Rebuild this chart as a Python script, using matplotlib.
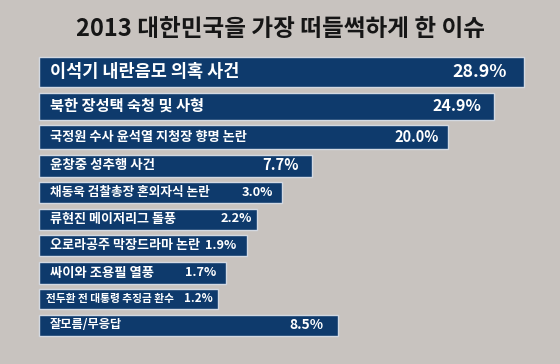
import matplotlib
matplotlib.use("Agg")
import matplotlib.pyplot as plt

plt.rcParams['font.family'] = ['Noto Sans CJK KR', 'DejaVu Sans']

# ---- data ----
title = "2013 대한민국을 가장 떠들썩하게 한 이슈"
issues = [
    "이석기 내란음모 의혹 사건",
    "북한 장성택 숙청 및 사형",
    "국정원 수사 윤석열 지청장 향명 논란",
    "윤창중 성추행 사건",
    "채동욱 검찰총장 혼외자식 논란",
    "류현진 메이저리그 돌풍",
    "오로라공주 막장드라마 논란",
    "싸이와 조용필 열풍",
    "전두환 전 대통령 추징금 환수",
    "잘모름/무응답",
]
percent = [28.9, 24.9, 20.0, 7.7, 3.0, 2.2, 1.9, 1.7, 1.2, 8.5]
# drawn bar lengths as they appear in the graphic (not proportional to the %)
bar_lengths = [485, 455, 409, 273, 243, 218, 208, 187, 179, 299]

# ---- styling / layout ----
bg = '#c8c3bf'
bar_color = '#0e3a6c'
edge_color = '#d3d9e2'
heights = [30, 27, 24, 22, 21, 21, 21, 22, 20, 21]
gap = 5.5
top = 57
left = 39
label_sizes = [12.6, 11.0, 9.5, 9.7, 9.1, 9.4, 9.4, 9.6, 7.7, 8.8]
value_sizes = [12.8, 11.5, 10.5, 10.6, 9.2, 9.2, 9.2, 9.2, 8.3, 9.9]
value_pads = [17, 13, 9, 13, 9, 5, 11, 10, 5, 14]
label_x = [50, 50, 50, 50, 50, 50, 50, 50, 46, 50]

fig = plt.figure(figsize=(5.6, 3.64), dpi=100, facecolor=bg)
ax = fig.add_axes([0, 0, 1, 1])
ax.set_facecolor(bg)
ax.set_xlim(0, 560)
ax.set_ylim(364, 0)
ax.axis('off')

centers = []
y = top
for h in heights:
    centers.append(y + h / 2)
    y += h + gap

ax.barh(centers, bar_lengths, height=heights, left=left, color=bar_color,
        edgecolor=edge_color, linewidth=1.0)

for i, (name, pct, L, c) in enumerate(zip(issues, percent, bar_lengths, centers)):
    ax.text(label_x[i], c, name, color='white', fontsize=label_sizes[i],
            fontweight='bold', ha='left', va='center')
    ax.text(left + L - value_pads[i], c, f"{pct:.1f}%", color='white',
            fontsize=value_sizes[i], fontweight='bold', ha='right', va='center')

ax.text(281, 29, title, color='#161616', fontsize=17, fontweight='bold',
        ha='center', va='center')

fig.savefig('out.png', dpi=100, facecolor=bg)
